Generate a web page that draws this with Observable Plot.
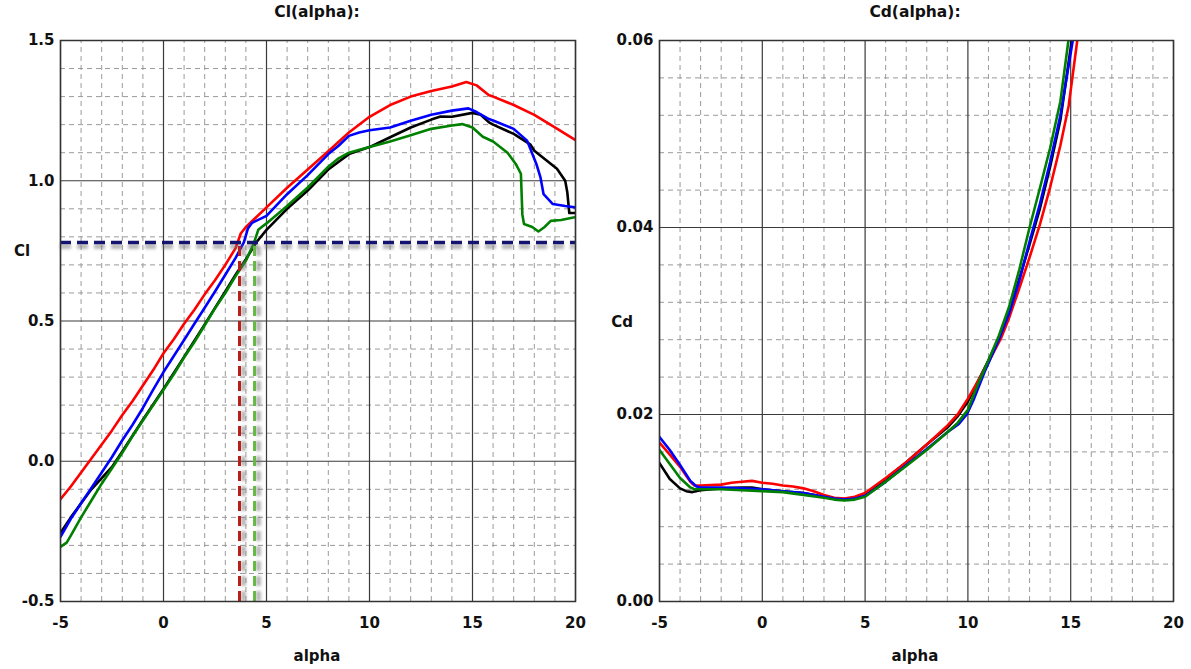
<!DOCTYPE html>
<html>
<head>
<meta charset="utf-8">
<script src="https://cdn.jsdelivr.net/npm/d3@7"></script>
<script src="https://cdn.jsdelivr.net/npm/@observablehq/plot@0.6"></script>
<style>
  html, body { margin: 0; padding: 0; background: #fff; }
  #wrap { position: relative; width: 1191px; height: 669px; overflow: hidden; font-family: "DejaVu Sans", sans-serif; font-weight: bold; color: #111; }
  .lbl { position: absolute; transform: translate(-50%, -50%); white-space: nowrap; font-size: 15px; }
  .ttl { font-size: 15.5px; }
  #left, #right { position: absolute; top: 0; }
  #left { left: 0; }
  #right { left: 595px; }
</style>
</head>
<body>
<div id="wrap">
  <div id="left"></div>
  <div id="right"></div>
  <div class="lbl ttl" style="left:317px; top:12px;">Cl(alpha):</div>
  <div class="lbl ttl" style="left:915px; top:12px;">Cd(alpha):</div>
  <div class="lbl" style="left:22px; top:251px;">Cl</div>
  <div class="lbl" style="left:622px; top:322px;">Cd</div>
  <div class="lbl" style="left:317px; top:656px;">alpha</div>
  <div class="lbl" style="left:915px; top:656px;">alpha</div>
</div>
<script>
// ---------- data ----------
const seriesNames = ["black", "red", "blue", "green"];
const seriesColors = ["#111111", "#e8231f", "#1f1fe6", "#1f8a1f"];

const alphaTicks = [-5, 0, 5, 10, 15, 20];
const clTicks = [-0.5, 0.0, 0.5, 1.0, 1.5];
const cdTicks = [0.00, 0.02, 0.04, 0.06];

const clTarget = 0.78;        // horizontal dashed line
const alphaRedMark = 3.69;    // red vertical dashed line
const alphaGreenMark = 4.42;  // green vertical dashed line

const clRed = [[-5,-0.135],[-4.5,-0.09],[-4,-0.04],[-3.5,0.01],[-3,0.06],[-2.5,0.11],[-2,0.165],[-1.5,0.215],[-1,0.27],[-0.5,0.325],[0,0.385],[0.5,0.435],[1,0.49],[1.5,0.54],[2,0.595],[2.5,0.645],[3,0.70],[3.5,0.76],[3.75,0.812],[4,0.835],[4.5,0.87],[5,0.905],[6,0.975],[7,1.04],[8,1.105],[9,1.172],[10,1.228],[11,1.27],[12,1.30],[13,1.32],[14,1.336],[14.7,1.352],[15.2,1.34],[15.8,1.305],[16,1.30],[17,1.27],[18,1.235],[19,1.19],[20,1.145]];
const clBlue = [[-5,-0.27],[-4.5,-0.205],[-4,-0.15],[-3.5,-0.095],[-3,-0.04],[-2.5,0.015],[-2,0.075],[-1.5,0.13],[-1,0.19],[-0.5,0.255],[0,0.318],[0.5,0.375],[1,0.432],[1.5,0.49],[2,0.547],[2.5,0.605],[3,0.665],[3.5,0.725],[3.9,0.78],[4.1,0.83],[4.3,0.85],[5,0.875],[6,0.952],[7,1.02],[8,1.095],[8.5,1.125],[9,1.16],[9.5,1.172],[10,1.18],[11,1.19],[12,1.214],[13,1.235],[14,1.25],[14.8,1.258],[15.2,1.245],[15.8,1.22],[16,1.215],[17,1.185],[17.65,1.143],[18.1,1.06],[18.3,1.012],[18.45,0.952],[18.9,0.917],[19.5,0.91],[20,0.905]];
const clBlack = [[-5,-0.255],[-4.5,-0.20],[-4,-0.15],[-3.5,-0.10],[-3,-0.06],[-2.5,-0.02],[-2,0.035],[-1,0.148],[0,0.258],[1,0.372],[2,0.488],[3,0.605],[3.5,0.665],[4,0.72],[4.5,0.78],[5,0.825],[6,0.90],[7,0.965],[8,1.04],[9,1.095],[10,1.12],[11,1.155],[12,1.19],[13,1.218],[13.45,1.229],[14,1.228],[15,1.242],[15.4,1.235],[15.8,1.208],[16,1.20],[17,1.167],[17.8,1.13],[18,1.107],[19.1,1.043],[19.5,1.0],[19.6,0.96],[19.7,0.885],[20,0.885]];
const clGreen = [[-5,-0.305],[-4.7,-0.29],[-4.5,-0.265],[-4,-0.20],[-3.5,-0.14],[-3,-0.08],[-2.5,-0.025],[-2,0.03],[-1.5,0.09],[-1,0.145],[-0.5,0.20],[0,0.255],[0.5,0.31],[1,0.37],[1.5,0.425],[2,0.485],[2.5,0.545],[3,0.60],[3.5,0.66],[4,0.715],[4.4,0.78],[4.6,0.825],[4.8,0.837],[5,0.848],[6,0.91],[7,0.976],[8,1.05],[8.5,1.08],[9,1.10],[10,1.12],[11,1.14],[12,1.162],[13,1.185],[14,1.197],[14.5,1.202],[15,1.19],[15.5,1.157],[16,1.14],[16.7,1.10],[17.1,1.06],[17.35,1.025],[17.42,0.88],[17.5,0.846],[17.9,0.835],[18.2,0.819],[18.5,0.835],[18.8,0.857],[19.3,0.86],[19.9,0.869],[20,0.87]];

const cdRed = [[-5,0.0170],[-4.5,0.0157],[-4,0.0144],[-3.5,0.0128],[-3.3,0.0124],[-3,0.0124],[-2,0.0125],[-1.5,0.0127],[-1,0.0128],[-0.5,0.0129],[0,0.0127],[0.5,0.0126],[1,0.0124],[1.5,0.0123],[2,0.0121],[2.5,0.0118],[3,0.0114],[3.5,0.0111],[4,0.0110],[4.5,0.0112],[5,0.0116],[5.5,0.0124],[6,0.0132],[7,0.0149],[8,0.0168],[9,0.0188],[9.5,0.0200],[10,0.0217],[10.6,0.0240],[11,0.0256],[11.6,0.0281],[12,0.0303],[12.5,0.0335],[13,0.0368],[13.5,0.0403],[14,0.0443],[14.5,0.0488],[14.9,0.0530],[15.32,0.0600]];
const cdBlue = [[-5,0.0176],[-4.5,0.0162],[-4,0.0146],[-3.5,0.0129],[-3.2,0.0123],[-3,0.0122],[-2,0.0122],[-1,0.0121],[0,0.0120],[1,0.0118],[2,0.0116],[3,0.0112],[3.5,0.0110],[4,0.0109],[4.5,0.0110],[5,0.0113],[6,0.0128],[7,0.0146],[8,0.0163],[9,0.0181],[9.56,0.0190],[9.97,0.0201],[10.3,0.0217],[10.8,0.0245],[11.5,0.0280],[12,0.0308],[12.5,0.0343],[13,0.0385],[13.5,0.0425],[14,0.0470],[14.5,0.0520],[15.1,0.0600]];
const cdBlack = [[-5,0.0148],[-4.5,0.0131],[-4,0.0121],[-3.7,0.0118],[-3.4,0.0117],[-3,0.0119],[-2,0.0121],[-1,0.0122],[-0.5,0.0122],[0,0.0120],[1,0.0118],[2,0.0116],[3,0.0112],[3.5,0.0110],[4,0.0109],[4.5,0.0110],[5,0.0113],[6,0.0131],[7,0.0149],[8,0.0168],[9,0.0186],[9.5,0.0198],[10,0.0214],[10.5,0.0236],[11,0.0258],[11.5,0.0281],[12,0.0310],[12.5,0.0345],[13,0.0382],[13.5,0.0420],[14,0.0465],[14.5,0.0515],[15.05,0.0600]];
const cdGreen = [[-5,0.0162],[-4.5,0.0147],[-4,0.0132],[-3.5,0.0122],[-3.3,0.0120],[-3,0.0120],[-2,0.0120],[-1,0.0119],[0,0.0118],[1,0.0117],[2,0.0114],[3,0.0111],[3.5,0.0109],[4,0.0108],[4.5,0.0109],[5,0.0112],[6,0.0128],[7,0.0145],[8,0.0162],[9,0.0181],[9.5,0.0191],[10,0.0205],[10.5,0.0233],[11,0.0258],[11.5,0.0284],[12,0.0315],[12.5,0.0355],[13,0.0400],[13.5,0.0442],[14,0.0485],[14.5,0.0535],[14.89,0.0600]];

// ---------- build tables ----------
const clSets = {black: clBlack, red: clRed, blue: clBlue, green: clGreen};
const cdSets = {black: cdBlack, red: cdRed, blue: cdBlue, green: cdGreen};
const toRows = sets => seriesNames.flatMap(s => sets[s].map(([a, v]) => ({alpha: a, value: v, series: s})));
const clRows = toRows(clSets);
const cdRows = toRows(cdSets);

const alphaMinor = d3.range(-5, 20.01, 1).filter(a => Math.abs(a % 5) > 1e-9);
const clMinor = d3.range(-0.5, 1.501, 0.1).filter(v => Math.abs(Math.round(v * 10) % 5) !== 0);
const cdMinor = d3.range(0, 0.0601, 0.004).filter(v => Math.abs(Math.round(v * 1000) % 20) !== 0);

const hyphen = f => d => f(d).replace("\u2212", "-");
const baseStyle = {fontFamily: "DejaVu Sans, sans-serif", fontWeight: "bold", fontSize: "15px", color: "#111", background: "transparent", overflow: "visible"};

function gridMarks(yMinor, yMajor, yDomain) {
  return [
    Plot.ruleX(alphaMinor, {y1: yDomain[0], y2: yDomain[1], stroke: "#9a9a9a", strokeWidth: 1, strokeDasharray: "5,4"}),
    Plot.ruleY(yMinor, {x1: -5, x2: 20, stroke: "#9a9a9a", strokeWidth: 1, strokeDasharray: "5,4"}),
    Plot.ruleX(alphaTicks, {y1: yDomain[0], y2: yDomain[1], stroke: "#3a3a3a", strokeWidth: 1.2}),
    Plot.ruleY(yMajor, {x1: -5, x2: 20, stroke: "#3a3a3a", strokeWidth: 1.2})
  ];
}

const colorScale = {domain: seriesNames, range: seriesColors};

const left = Plot.plot({
  width: 590, height: 669,
  marginLeft: 60, marginRight: 15, marginTop: 40, marginBottom: 68,
  style: baseStyle,
  x: {domain: [-5, 20], label: null},
  y: {domain: [-0.5, 1.5], label: null},
  color: colorScale,
  marks: [
    ...gridMarks(clMinor, clTicks, [-0.5, 1.5]),
    Plot.line(clRows, {x: "alpha", y: "value", z: "series", stroke: "series", strokeWidth: 2.6, clip: true}),
    // shadows (blurred afterwards)
    Plot.ruleY([clTarget], {x1: -5, x2: 20, stroke: "#707070", strokeOpacity: 0.5, strokeWidth: 5, strokeDasharray: "11,6", dy: 4}),
    Plot.ruleX([alphaRedMark], {y1: -0.5, y2: clTarget, stroke: "#707070", strokeOpacity: 0.5, strokeWidth: 5, strokeDasharray: "10,5", dx: 4}),
    Plot.ruleX([alphaGreenMark], {y1: -0.5, y2: clTarget, stroke: "#707070", strokeOpacity: 0.5, strokeWidth: 5, strokeDasharray: "10,5", dx: 4}),
    // dashed markers
    Plot.ruleX([alphaRedMark], {y1: -0.5, y2: clTarget, stroke: "#b81e1a", strokeWidth: 3, strokeDasharray: "10,5"}),
    Plot.ruleX([alphaGreenMark], {y1: -0.5, y2: clTarget, stroke: "#66b844", strokeWidth: 3, strokeDasharray: "10,5"}),
    Plot.ruleY([clTarget], {x1: -5, x2: 20, stroke: "#141470", strokeWidth: 3.5, strokeDasharray: "11,6"}),
    Plot.frame({stroke: "#333", strokeWidth: 1.5}),
    Plot.axisX({ticks: alphaTicks, tickSize: 0, tickPadding: 16, label: null, tickFormat: hyphen(d3.format("d"))}),
    Plot.axisY({ticks: clTicks, tickSize: 0, tickPadding: 6, label: null, tickFormat: hyphen(d3.format(".1f"))})
  ]
});
document.getElementById("left").append(left);

// soft blur for the shadow strokes (user-space filter region so thin lines are not culled)
{
  const svg = d3.select(left);
  svg.insert("defs", ":first-child").append("filter")
    .attr("id", "softShadow").attr("filterUnits", "userSpaceOnUse")
    .attr("x", 0).attr("y", 0).attr("width", 590).attr("height", 669)
    .append("feGaussianBlur").attr("stdDeviation", 1.5);
  svg.selectAll('g[stroke="#707070"]').attr("filter", "url(#softShadow)");
}

const right = Plot.plot({
  width: 596, height: 669,
  marginLeft: 64, marginRight: 18, marginTop: 40, marginBottom: 68,
  style: baseStyle,
  x: {domain: [-5, 20], label: null},
  y: {domain: [0, 0.06], label: null},
  color: colorScale,
  marks: [
    ...gridMarks(cdMinor, cdTicks, [0, 0.06]),
    Plot.line(cdRows, {x: "alpha", y: "value", z: "series", stroke: "series", strokeWidth: 2.6, clip: true}),
    Plot.frame({stroke: "#333", strokeWidth: 1.5}),
    Plot.axisX({ticks: alphaTicks, tickSize: 0, tickPadding: 16, label: null, tickFormat: hyphen(d3.format("d"))}),
    Plot.axisY({ticks: cdTicks, tickSize: 0, tickPadding: 6, label: null, tickFormat: hyphen(d3.format(".2f"))})
  ]
});
document.getElementById("right").append(right);
</script>
</body>
</html>
